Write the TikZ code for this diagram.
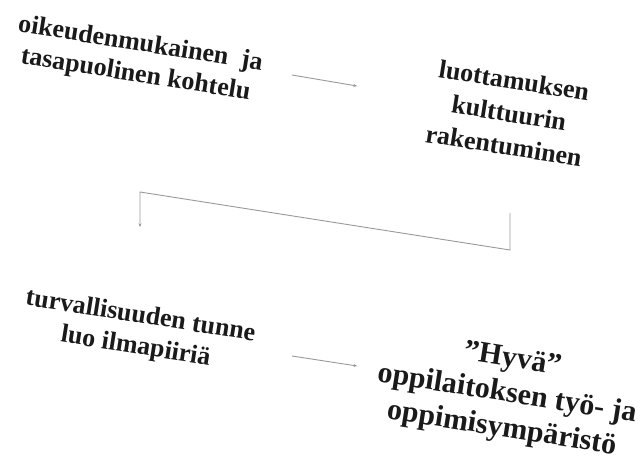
\documentclass[tikz,border=0pt]{standalone}
\usepackage{fontspec}
\setmainfont{Liberation Serif}
\usetikzlibrary{arrows.meta}
\definecolor{linegray}{HTML}{999999}
\definecolor{inkc}{HTML}{1A1A1A}
\tikzset{
  lbl/.style={font=\bfseries\fontsize{26}{31}\selectfont, align=center, rotate=-9, inner sep=0pt, text=inkc},
  bigl/.style={font=\bfseries\fontsize{30}{35}\selectfont, align=center, rotate=-9, inner sep=0pt, text=inkc},
  conn/.style={draw=linegray, line width=0.9pt, -{Stealth[length=3.5pt,width=3pt]}}
}
\begin{document}
\begin{tikzpicture}[x=1pt,y=-1pt]
\useasboundingbox (0,0) rectangle (644,460);
\node[lbl] (a) at (138,60) {oikeudenmukainen\ \ ja\\tasapuolinen kohtelu};
\node[lbl, font=\bfseries\fontsize{26}{33}\selectfont] (b) at (509,113) {luottamuksen\\kulttuurin\\rakentuminen};
\node[lbl] (c) at (138,332) {turvallisuuden tunne\\luo ilmapiiriä};
\node[bigl] (d) at (507,395) {”Hyvä”\\oppilaitoksen työ- ja\\oppimisympäristö};
\coordinate (a1) at (292,75);
\coordinate (b1) at (357,86);
\coordinate (c1) at (292,356);
\coordinate (d1) at (357,366);
\coordinate (m1) at (510,213);
\coordinate (m2) at (510,250);
\coordinate (m3) at (140,192);
\coordinate (m4) at (140,227);
\draw[conn] (a1) -- (b1);
\draw[conn] (c1) -- (d1);
\draw[conn] (m1) -- (m2) -- (m3) -- (m4);
\end{tikzpicture}
\end{document}
